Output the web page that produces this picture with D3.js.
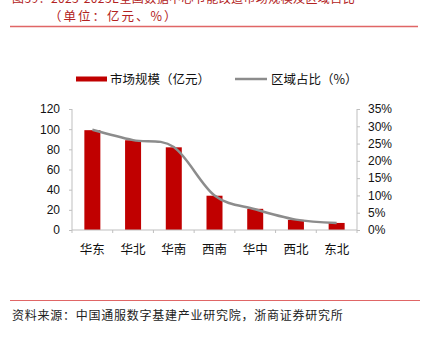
<!DOCTYPE html>
<html><head><meta charset="utf-8">
<script src="https://cdn.jsdelivr.net/npm/d3@7"></script>
<style>
html,body{margin:0;padding:0;background:#fff;}
svg{display:block;font-family:"Liberation Sans","Noto Sans CJK SC",sans-serif;}
</style></head>
<body><svg id="c" width="424" height="339"></svg>
<script>
const categories = ["华东","华北","华南","西南","华中","西北","东北"];
const marketSize = [99, 89, 82, 34, 21, 10, 7];
const regionShare = [29, 26, 24, 10, 6, 3, 2];
const leftTicks = [0,20,40,60,80,100,120];
const rightTicks = [0,5,10,15,20,25,30,35];
const seriesNames = ["市场规模（亿元）","区域占比（%）"];
const titleLine1 = "图39：2023-2025E全国数据中心节能改造市场规模及区域占比";
const titleLine2 = "（单位：亿元、%）";
const sourceText = "资料来源：中国通服数字基建产业研究院，浙商证券研究所";

const svg = d3.select("#c");
const red = "#c00000", gray = "#8c8c8c", axisC = "#bfbfbf", hdr = "#e06666";
const cjk = '"Noto Sans CJK SC",sans-serif';

// header
svg.append("text").attr("x",12).attr("y",3).attr("fill","#b22222")
  .style("font-family",cjk).style("font-size","12px").style("letter-spacing","0.4px").text(titleLine1);
svg.append("text").attr("x",49).attr("y",21).attr("fill","#b22222")
  .style("font-family",cjk).style("font-size","12.5px").style("letter-spacing","2px").text(titleLine2);
svg.append("line").attr("x1",10).attr("x2",418).attr("y1",26.5).attr("y2",26.5)
  .attr("stroke",hdr).attr("stroke-width",1.5);

// footer
svg.append("line").attr("x1",10).attr("x2",420).attr("y1",300.5).attr("y2",300.5)
  .attr("stroke",hdr).attr("stroke-width",1.2);
svg.append("text").attr("x",12).attr("y",320).attr("fill","#222")
  .style("font-family",cjk).style("font-size","12px").style("letter-spacing","0.75px").text(sourceText);

// scales
const x = d3.scaleBand().domain(categories).range([72,357]);
const yL = d3.scaleLinear().domain([0,120]).range([230,109]);
const yR = d3.scaleLinear().domain([0,35]).range([230,109]);
const bw = 16;

// axes
const gL = svg.append("g").attr("transform","translate(72,0)")
  .call(d3.axisLeft(yL).tickValues(leftTicks).tickSize(3).tickPadding(9));
const gR = svg.append("g").attr("transform","translate(357,0)")
  .call(d3.axisRight(yR).tickValues(rightTicks).tickSize(3).tickPadding(8).tickFormat(d=>d+"%"));
[gL,gR].forEach(g=>{
  g.select(".domain").attr("stroke",axisC).attr("d","M0,109V230");
  g.selectAll(".tick line").attr("stroke",axisC);
  g.selectAll("text").attr("fill","#111").style("font-family","'Liberation Sans',sans-serif").style("font-size","12px");
});

// bars
svg.append("g").selectAll("rect").data(categories).join("rect")
  .attr("x",(d)=>x(d)+x.bandwidth()/2-bw/2)
  .attr("width",bw)
  .attr("y",(d,i)=>yL(marketSize[i]))
  .attr("height",(d,i)=>yL(0)-yL(marketSize[i]))
  .attr("fill",red);

// bottom axis
const gB = svg.append("g").attr("transform","translate(0,230)");
gB.append("line").attr("x1",72).attr("x2",357).attr("stroke",axisC);
const bounds = categories.map(c=>x(c)).concat([x.range()[1]]);
gB.selectAll("line.t").data(bounds).join("line").attr("class","t")
  .attr("x1",d=>d).attr("x2",d=>d).attr("y1",0).attr("y2",3).attr("stroke",axisC);
gB.selectAll("text").data(categories).join("text")
  .attr("x",d=>x(d)+x.bandwidth()/2).attr("y",24).attr("text-anchor","middle")
  .attr("fill","#111").style("font-family",cjk).style("font-size","12.5px").text(d=>d);

// line
const line = d3.line().x((d,i)=>x(categories[i])+x.bandwidth()/2).y(d=>yR(d)).curve(d3.curveCardinal);
svg.append("path").datum(regionShare).attr("d",line).attr("fill","none")
  .attr("stroke",gray).attr("stroke-width",2.5);

// legend
const lg = svg.append("g");
lg.append("rect").attr("x",76).attr("y",76.5).attr("width",31).attr("height",5).attr("fill",red);
lg.append("text").attr("x",110).attr("y",83.5).attr("fill","#111")
  .style("font-family",cjk).style("font-size","12.5px").text(seriesNames[0]);
lg.append("line").attr("x1",235).attr("x2",267).attr("y1",79).attr("y2",79)
  .attr("stroke",gray).attr("stroke-width",2.5);
lg.append("text").attr("x",271).attr("y",83.5).attr("fill","#111")
  .style("font-family",cjk).style("font-size","12.5px").text(seriesNames[1]);
</script></body></html>
